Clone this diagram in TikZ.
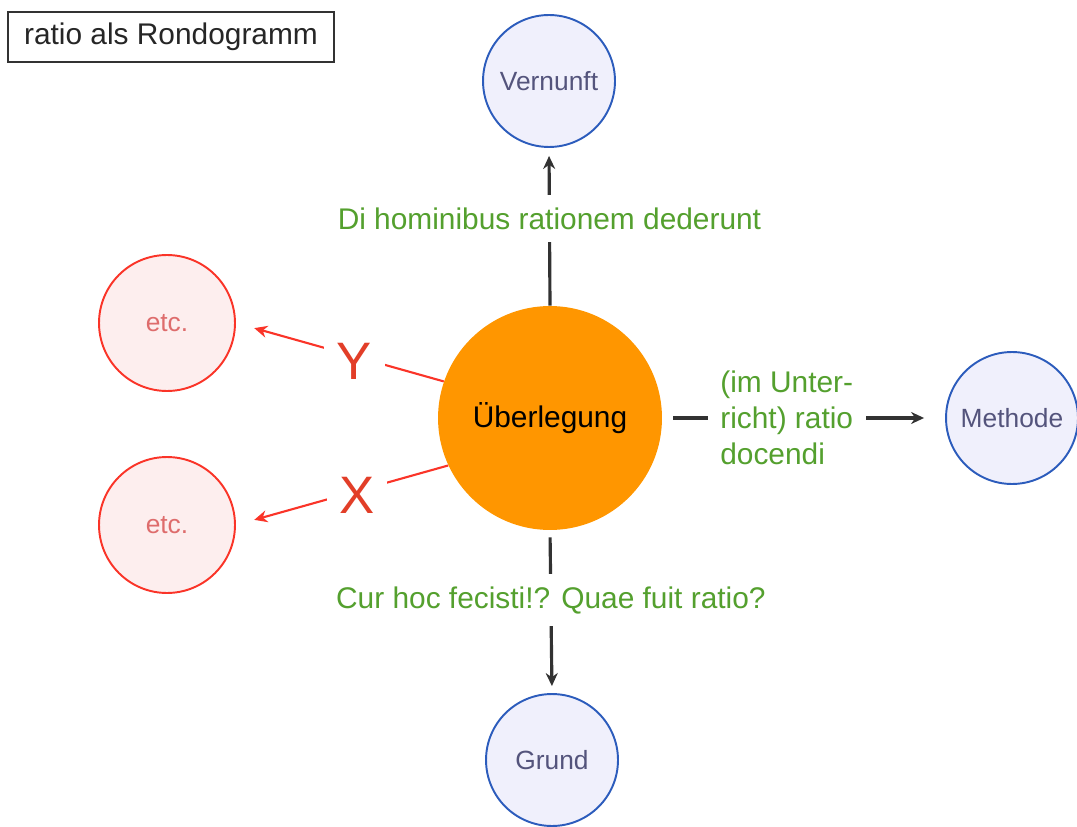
\documentclass[tikz,border=0pt]{standalone}
\usepackage{fontspec}
\setmainfont{Liberation Sans}
\usetikzlibrary{arrows.meta}
\definecolor{ideablue}{RGB}{44,92,188}
\definecolor{ideafill}{RGB}{240,240,252}
\definecolor{ideatext}{RGB}{84,84,124}
\definecolor{casered}{RGB}{250,52,40}
\definecolor{casefill}{RGB}{253,238,238}
\definecolor{casetext}{RGB}{222,108,108}
\definecolor{huborange}{RGB}{255,150,0}
\definecolor{linkgray}{RGB}{50,50,50}
\definecolor{reasongreen}{RGB}{84,160,46}
\definecolor{letterred}{RGB}{226,62,40}
\tikzset{
    rondo diagram/.style = {x=0.02cm, y=-0.02cm,
                            >={Stealth[length=2.6mm, width=2.4mm]}},
    concept/.style       = {circle, draw=ideablue, line width=1.1pt,
                            fill=ideafill, text=ideatext, inner sep=0pt,
                            minimum size=2.64cm,
                            font=\fontsize{15}{18}\selectfont},
    opencase/.style      = {concept, draw=casered, fill=casefill,
                            text=casetext, minimum size=2.72cm},
    hub/.style           = {circle, fill=huborange, inner sep=0pt,
                            minimum size=4.48cm,
                            font=\fontsize{17}{20}\selectfont},
    link/.style          = {->, draw=linkgray, line width=1.8pt},
    branch/.style        = {->, draw=casered, line width=1.2pt},
    reason/.style        = {fill=white, text=reasongreen, inner sep=0.25cm,
                            font=\fontsize{17}{20.5}\selectfont},
    letter/.style        = {fill=white, text=letterred, inner xsep=0.25cm,
                            inner ysep=0pt, font=\fontsize{30}{36}\selectfont},
    caption box/.style   = {draw=linkgray, line width=1pt, text=black!85,
                            minimum width=6.52cm, minimum height=1cm,
                            font=\fontsize{17}{20}\selectfont}
}

\begin{document}
\begin{tikzpicture}[rondo diagram]
\useasboundingbox (0,0) rectangle (1077,827);

% Title of the sheet.
\node[caption box] (title) at (171,37) {ratio als Rondogramm};

% The central consideration and the concepts it leads to.
\node[hub] (ueb) at (550,418) {Überlegung};
\node[concept] (vern) at (549,81) {Vernunft};
\node[concept] (meth) at (1012,418) {Methode};
\node[concept] (grund) at (552,760) {Grund};

% Readings of ratio, each written into its connector.
\draw[link, shorten >=0.16cm] (ueb.north) --
    node[reason, pos=0.55] {Di hominibus rationem dederunt} (vern.south);
\draw[link, shorten <=0.22cm, shorten >=0.42cm] (ueb.east) --
    node[reason, pos=0.44, align=left] {(im Unter-\\richt) ratio\\docendi}
    (meth.west);
\draw[link, shorten <=0.14cm, shorten >=0.14cm] (ueb.south) --
    node[reason, pos=0.43] {Cur hoc fecisti!? Quae fuit ratio?}
    (grund.north);

% Further open cases.
\node[opencase] (etcY) at (167,323) {etc.};
\node[opencase] (etcX) at (167,525) {etc.};
\draw[branch, shorten >=0.38cm] (ueb.161) --
    node[letter, pos=0.43, yshift=-0.1cm] {Y} (etcY.east);
\draw[branch, shorten >=0.38cm] (ueb.205) --
    node[letter, pos=0.43, yshift=-0.08cm] {X} (etcX.east);

\end{tikzpicture}
\end{document}
